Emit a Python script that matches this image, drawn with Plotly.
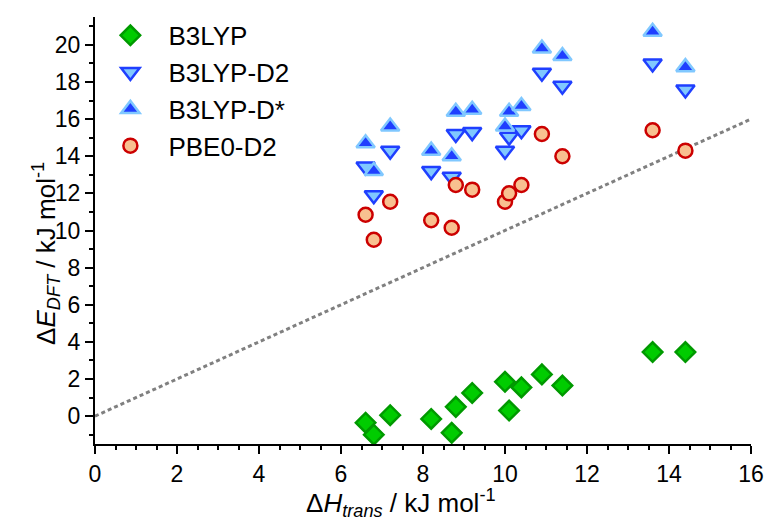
import plotly.graph_objects as go

x_trans = [6.6, 6.8, 7.2, 8.2, 8.7, 8.8, 9.2, 10.0, 10.1, 10.4, 10.9, 11.4, 13.6, 14.4]
b3lyp = [-0.35, -1.0, 0.05, -0.15, -0.9, 0.5, 1.25, 1.85, 0.3, 1.55, 2.25, 1.65, 3.45, 3.45]
b3lyp_d2 = [13.45, 11.9, 14.3, 13.2, 12.9, 15.2, 15.3, 14.3, 15.05, 15.4, 18.5, 17.8, 19.0, 17.6]
b3lyp_dstar = [14.7, 13.2, 15.6, 14.3, 14.0, 16.4, 16.5, 15.6, 16.4, 16.7, 19.8, 19.4, 20.7, 18.8]
pbe0_d2 = [10.85, 9.5, 11.55, 10.55, 10.15, 12.45, 12.2, 11.55, 12.0, 12.45, 15.2, 14.0, 15.4, 14.3]
ref_x = [0, 16]
ref_y = [0, 16]
x_title = "Δ<i>H</i><sub><i>trans</i></sub> / kJ mol<sup>-1</sup>"
y_title = "Δ<i>E</i><sub><i>DFT</i></sub> / kJ mol<sup>-1</sup>"

fig = go.Figure()
fig.add_trace(go.Scatter(x=ref_x, y=ref_y, mode="lines", showlegend=False,
                         line=dict(color="#808080", width=3, dash="4px,3px")))
fig.add_trace(go.Scatter(x=x_trans, y=b3lyp, mode="markers", name="B3LYP",
                         marker=dict(symbol="diamond", size=15, color="#00CC00",
                                     line=dict(color="#009900", width=2.5))))
fig.add_trace(go.Scatter(x=x_trans, y=b3lyp_d2, mode="markers", name="B3LYP-D2",
                         marker=dict(symbol="triangle-down", size=16, color="#80C8FF",
                                     line=dict(color="#1F3FFF", width=2.5))))
fig.add_trace(go.Scatter(x=x_trans, y=b3lyp_dstar, mode="markers", name="B3LYP-D*",
                         marker=dict(symbol="triangle-up", size=16, color="#1F3FFF",
                                     line=dict(color="#80C8FF", width=2.5))))
fig.add_trace(go.Scatter(x=x_trans, y=pbe0_d2, mode="markers", name="PBE0-D2",
                         marker=dict(symbol="circle", size=14, color="#F8C090",
                                     line=dict(color="#CC0000", width=2.5))))

font = "Liberation Sans, Arial, sans-serif"
fig.update_layout(
    width=764, height=522,
    margin=dict(l=95, r=13, t=12, b=78),
    paper_bgcolor="white", plot_bgcolor="white",
    font=dict(family=font, size=22, color="black"),
    showlegend=True,
    legend=dict(x=-0.004, y=1.012, xanchor="left", yanchor="top",
                font=dict(size=26), bgcolor="rgba(0,0,0,0)",
                itemwidth=66, tracegroupgap=0),
    xaxis=dict(range=[0, 16], tickvals=[0, 2, 4, 6, 8, 10, 12, 14, 16],
               automargin=False,
               showgrid=False, zeroline=False, showline=True, linecolor="black",
               linewidth=2, ticks="outside", ticklen=8, tickwidth=2, tickcolor="black",
               minor=dict(dtick=0.5, ticks="outside", ticklen=4, tickwidth=2, tickcolor="black"),
               tickfont=dict(size=23)),
    yaxis=dict(range=[-1.5, 21.5], tickvals=[0, 2, 4, 6, 8, 10, 12, 14, 16, 18, 20],
               automargin=False,
               showgrid=False, zeroline=False, showline=True, linecolor="black",
               linewidth=2, ticks="outside", ticklen=8, tickwidth=2, tickcolor="black",
               minor=dict(dtick=1, ticks="outside", ticklen=4, tickwidth=2, tickcolor="black"),
               tickfont=dict(size=23)),
    annotations=[
        dict(text=x_title, xref="paper", yref="paper", x=0.466, y=-0.139,
             xanchor="center", yanchor="middle", showarrow=False,
             font=dict(size=26)),
        dict(text=y_title, xref="paper", yref="paper", x=-0.075, y=0.447,
             xanchor="center", yanchor="middle", showarrow=False, textangle=-90,
             font=dict(size=26)),
    ],
)
for i, tr in enumerate(fig.data):
    tr.legendgroup = "g%d" % i

fig.write_html("out.html")
